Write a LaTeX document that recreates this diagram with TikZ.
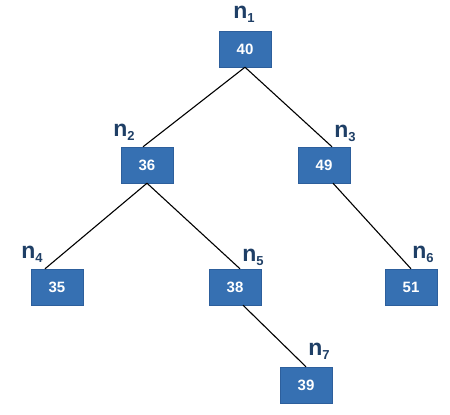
\documentclass[tikz,border=0pt]{standalone}
\usepackage{fontspec}
\setmainfont{Liberation Sans}
\usetikzlibrary{positioning}

\definecolor{boxblue}{HTML}{3670B2}
\definecolor{boxedge}{HTML}{2D5F9C}
\definecolor{tagblue}{HTML}{1F3F66}

\newcommand{\ntag}[1]{\textbf{n}\raisebox{-0.35ex}{\fontsize{13}{13}\selectfont\textbf{#1}}}

\begin{document}
\begin{tikzpicture}
    [
        x = 1pt, y = -1pt,
        keybox/.style = {
            rectangle, draw=boxedge, fill=boxblue, text=white,
            minimum width=52pt, minimum height=36pt, inner sep=0pt,
            font=\fontsize{15}{15}\selectfont\bfseries
            },
        tag/.style = {
            text=tagblue, inner sep=0pt,
            font=\fontsize{23}{23}\selectfont
            },
        link/.style = {
            draw=black, line width=1.1pt
            },
    ]
    \useasboundingbox (0,0) rectangle (450,415);

    % boxes
    \node[keybox] (n1) at (245,49)  {40};
    \node[keybox] (n2) at (147,165) {36};
    \node[keybox] (n3) at (324,165) {49};
    \node[keybox] (n4) at (57,287)  {35};
    \node[keybox] (n5) at (235,287) {38};
    \node[keybox] (n6) at (411,287) {51};
    \node[keybox] (n7) at (306,385) {39};

    % names
    \node[tag] (t1) [above=8pt of n1, xshift=-1pt] {\ntag{1}};
    \node[tag] (t2) [above left=6pt and -14pt of n2] {\ntag{2}};
    \node[tag] (t3) [above right=5pt and -16pt of n3] {\ntag{3}};
    \node[tag] (t4) [above left=6pt and -12pt of n4] {\ntag{4}};
    \node[tag] (t5) [above right=3pt and -19pt of n5] {\ntag{5}};
    \node[tag] (t6) [above right=6pt and -25pt of n6] {\ntag{6}};
    \node[tag] (t7) [above right=7pt and -24pt of n7] {\ntag{7}};

    % links
    \draw[link] (n1.south) -- ([xshift=-4pt]n2.north);
    \draw[link] (n1.south) -- ([xshift=8pt]n3.north);
    \draw[link] (n2.south) -- ([xshift=-12pt]n4.north);
    \draw[link] (n2.south) -- ([xshift=5pt]n5.north);
    \draw[link] ([xshift=9pt]n3.south) -- (n6.north);
    \draw[link] ([xshift=8pt]n5.south) -- (n7.north);
\end{tikzpicture}
\end{document}
